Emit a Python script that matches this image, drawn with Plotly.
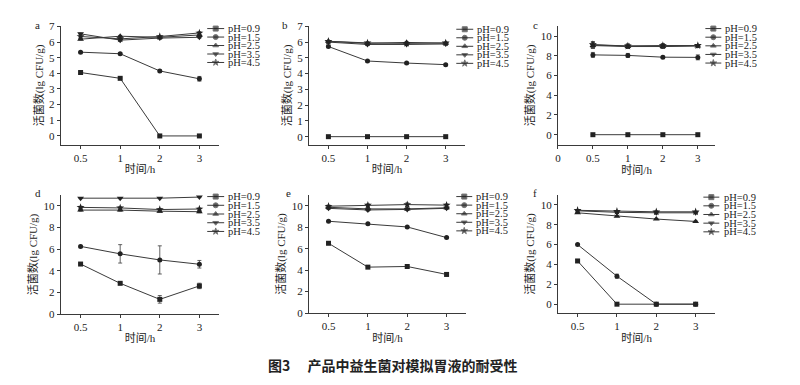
import plotly.graph_objects as go

# ---------------- data ----------------
times = ["0.5", "1", "2", "3"]
ph_labels = ["pH=0.9", "pH=1.5", "pH=2.5", "pH=3.5", "pH=4.5"]
panel_letters = ["a", "b", "c", "d", "e", "f"]

a_vals = [[4.05, 3.68, 0.0, 0.0],
          [5.35, 5.25, 4.15, 3.65],
          [6.18, 6.37, 6.30, 6.45],
          [6.52, 6.12, 6.25, 6.30],
          [6.35, 6.20, 6.35, 6.58]]
a_err = [[0.05, 0.05, 0.0, 0.0], [0.05, 0.05, 0.05, 0.15],
         [0.05, 0.05, 0.05, 0.05], [0.05, 0.05, 0.05, 0.05], [0.05, 0.05, 0.05, 0.08]]

b_vals = [[0.0, 0.0, 0.0, 0.0],
          [5.72, 4.80, 4.67, 4.57],
          [6.05, 5.92, 5.98, 5.93],
          [6.00, 5.85, 5.85, 5.88],
          [6.05, 5.95, 5.92, 5.95]]
b_err = [[0.0, 0.0, 0.0, 0.0], [0.05, 0.05, 0.05, 0.05],
         [0.05, 0.05, 0.05, 0.05], [0.05, 0.05, 0.05, 0.05], [0.05, 0.05, 0.05, 0.05]]

c_vals = [[0.0, 0.0, 0.0, 0.0],
          [8.10, 8.05, 7.87, 7.85],
          [9.05, 8.95, 8.95, 9.00],
          [9.10, 9.00, 9.00, 9.05],
          [9.15, 9.00, 9.05, 9.05]]
c_err = [[0.0, 0.0, 0.0, 0.0], [0.25, 0.2, 0.1, 0.25],
         [0.3, 0.2, 0.2, 0.1], [0.3, 0.2, 0.2, 0.1], [0.3, 0.2, 0.2, 0.1]]

d_vals = [[4.62, 2.84, 1.36, 2.60],
          [6.25, 5.56, 5.00, 4.60],
          [9.60, 9.60, 9.50, 9.45],
          [10.70, 10.70, 10.70, 10.80],
          [9.85, 9.80, 9.65, 9.70]]
d_err = [[0.05, 0.08, 0.35, 0.25], [0.1, 0.85, 1.3, 0.35],
         [0.1, 0.1, 0.1, 0.1], [0.05, 0.05, 0.05, 0.05], [0.1, 0.1, 0.1, 0.1]]

e_vals = [[6.50, 4.28, 4.34, 3.60],
          [8.55, 8.32, 8.02, 7.03],
          [9.85, 9.70, 9.70, 9.80],
          [9.75, 9.60, 9.65, 9.75],
          [9.95, 10.05, 10.10, 10.05]]
e_err = [[0.08, 0.05, 0.05, 0.15], [0.05, 0.05, 0.05, 0.05],
         [0.1, 0.1, 0.1, 0.1], [0.1, 0.1, 0.1, 0.1], [0.1, 0.1, 0.15, 0.1]]

f_vals = [[4.35, 0.0, 0.0, 0.0],
          [6.00, 2.82, 0.0, 0.0],
          [9.20, 8.86, 8.57, 8.33],
          [9.40, 9.25, 9.20, 9.20],
          [9.45, 9.35, 9.30, 9.30]]
f_err = [[0.15, 0.0, 0.0, 0.0], [0.05, 0.2, 0.0, 0.0],
         [0.05, 0.05, 0.05, 0.05], [0.05, 0.05, 0.1, 0.05], [0.05, 0.05, 0.1, 0.05]]

panel_vals = [a_vals, b_vals, c_vals, d_vals, e_vals, f_vals]
panel_errs = [a_err, b_err, c_err, d_err, e_err, f_err]

y_title = "活菌数(lg CFU/g)"
x_title = "时间/h"
caption = "图3　 产品中益生菌对模拟胃液的耐受性"

# ---------------- layout (pixels) ----------------
W, H = 800, 385
symbols = ["square", "circle", "triangle-up", "triangle-down", "star"]
msizes = [5, 5, 6, 6, 6]
leg_sizes = [5, 5, 5, 5, 5]
LC = "#3a3a3a"
FONT = "Liberation Serif, Times New Roman, Noto Sans CJK SC, serif"

panels = [
    dict(x=(58, 217), y=(21, 143), xr=[-0.5, 3.5], yr=[-0.55, 7], dt=1, zero=False,
         leg=(205, 222, 224, 23.3, 8.75), lab=(35, 20)),
    dict(x=(307, 464), y=(21, 143), xr=[-0.5, 3.5], yr=[-0.5, 7], dt=1, zero=False,
         leg=(455, 472, 474, 24, 8.8), lab=(283, 20)),
    dict(x=(557, 715), y=(21, 143), xr=[-1, 3.5], yr=[-1, 11], dt=2, zero=True,
         leg=(705, 721, 723, 23.3, 8.9), lab=(535, 20)),
    dict(x=(58, 217), y=(195, 318), xr=[-0.5, 3.5], yr=[0, 11], dt=2, zero=False,
         leg=(205, 222, 224, 196.7, 9.0), lab=(35, 193)),
    dict(x=(307, 465), y=(195, 317), xr=[-0.5, 3.5], yr=[0, 11], dt=2, zero=False,
         leg=(455, 471, 473, 196.7, 8.85), lab=(287, 193)),
    dict(x=(557, 715), y=(195, 317), xr=[-0.5, 3.5], yr=[-0.9, 11], dt=2, zero=False,
         leg=(703, 719, 722, 197.3, 8.95), lab=(534, 193)),
]

fig = go.Figure()
layout = dict(width=W, height=H, margin=dict(l=0, r=0, t=0, b=0),
              paper_bgcolor="white", plot_bgcolor="rgba(0,0,0,0)", showlegend=False,
              font=dict(family=FONT, size=11, color="#222"))
annotations = []
xpos = list(range(len(times)))

for i, p in enumerate(panels):
    k = "" if i == 0 else str(i + 1)
    xa, ya = "x" + k, "y" + k
    for s in range(len(ph_labels)):
        fig.add_trace(go.Scatter(
            x=xpos, y=panel_vals[i][s], xaxis=xa, yaxis=ya, mode="lines+markers",
            name=ph_labels[s],
            line=dict(color=LC, width=1),
            marker=dict(symbol=symbols[s], size=msizes[s], color="#222"),
            error_y=dict(type="data", array=panel_errs[i][s], color=LC,
                         thickness=0.8, width=2),
            cliponaxis=False))
    tv = ([-1] if p["zero"] else []) + xpos
    tt = (["0"] if p["zero"] else []) + times
    layout["xaxis" + k] = dict(
        domain=[p["x"][0] / W, p["x"][1] / W], range=p["xr"], anchor=ya,
        tickmode="array", tickvals=tv, ticktext=tt, showgrid=False, zeroline=False,
        showline=True, linecolor=LC, linewidth=1, ticks="outside", ticklen=3,
        tickcolor=LC, tickfont=dict(size=11),
        title=dict(text=x_title, font=dict(size=11), standoff=2))
    layout["yaxis" + k] = dict(
        domain=[1 - p["y"][1] / H, 1 - p["y"][0] / H], range=p["yr"], anchor=xa,
        dtick=p["dt"], tick0=0, showgrid=False, zeroline=False,
        showline=True, linecolor=LC, linewidth=1, ticks="outside", ticklen=3,
        tickcolor=LC, tickfont=dict(size=11),
        title=dict(text=y_title, font=dict(size=11), standoff=3))
    annotations.append(dict(text=panel_letters[i], x=p["lab"][0] / W, y=1 - p["lab"][1] / H,
                            xref="paper", yref="paper", showarrow=False,
                            xanchor="center", yanchor="middle", font=dict(size=11)))

# legend samples drawn on a full-page overlay axis (pixel coordinates)
layout["xaxis7"] = dict(domain=[0, 1], range=[0, W], visible=False, fixedrange=True,
                        anchor="y7")
layout["yaxis7"] = dict(domain=[0, 1], range=[H, 0], visible=False, fixedrange=True,
                        anchor="x7")
for i, p in enumerate(panels):
    x0, x1, xt, y0, dy = p["leg"]
    for s in range(len(ph_labels)):
        yy = y0 + s * dy
        fig.add_trace(go.Scatter(
            x=[x0, (x0 + x1) / 2, x1], y=[yy, yy, yy], xaxis="x7", yaxis="y7",
            mode="lines+markers", line=dict(color=LC, width=1),
            marker=dict(symbol=symbols[s], size=[0, leg_sizes[s], 0], color="#222"),
            hoverinfo="skip", cliponaxis=False))
        annotations.append(dict(text=ph_labels[s], x=xt / W, y=1 - yy / H,
                                xref="paper", yref="paper", showarrow=False,
                                xanchor="left", yanchor="middle", font=dict(size=10.5)))

annotations.append(dict(text="<b>" + caption + "</b>", x=391 / W, y=1 - 371 / H,
                        xref="paper", yref="paper", showarrow=False,
                        xanchor="center", yanchor="middle",
                        font=dict(size=14, family="Noto Sans CJK SC, Liberation Serif")))
layout["annotations"] = annotations
fig.update_layout(**layout)
fig.write_html("out.html", config={"displayModeBar": False},
               post_script="document.body.style.margin='0';document.body.style.padding='0';")
